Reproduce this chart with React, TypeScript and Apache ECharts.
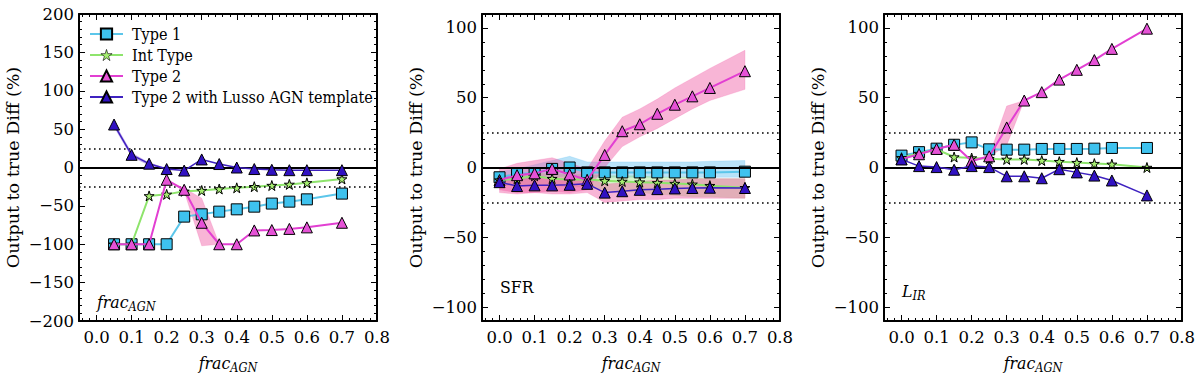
import React, { useEffect, useRef } from 'react';
import * as echarts from 'echarts';

// ---------- data ----------
const X_FRAC = [0.05, 0.1, 0.15, 0.2, 0.25, 0.3, 0.35, 0.4, 0.45, 0.5, 0.55, 0.6, 0.7];
const X_ALL = [0.0, 0.05, 0.1, 0.15, 0.2, 0.25, 0.3, 0.35, 0.4, 0.45, 0.5, 0.55, 0.6, 0.7];

const SERIES_NAMES = ['Type 1', 'Int Type', 'Type 2', 'Type 2 with Lusso AGN template'];

// Panel 1 : frac_AGN
const fracType1 = [-100, -100, -100, -100, -64, -61, -57.5, -54.5, -51, -47, -44.5, -41.5, -34];
const fracInt = [-100, -100, -37, -35, -31, -30, -28, -26.5, -25, -23.5, -22, -20, -15];
const fracType2 = [-100, -100, -100, -16, -29, -72, -100, -100, -82, -81.5, -80, -78, -72];
const fracLusso = [56, 16.5, 5, -2, -4, 10.5, 4.5, 0, -2, -3, -3.5, -3.5, -3.5];
const fracBandX = [0.2, 0.25, 0.3, 0.35];
const fracBandLo = [-16, -31, -102, -100];
const fracBandHi = [-16, -27, -40, -100];
const fracLussoBandX = [0.05, 0.1, 0.15, 0.2];
const fracLussoBandLo = [53, 14, 3, -3];
const fracLussoBandHi = [59, 19, 6, -1];

// Panel 2 : SFR
const sfrType1 = [-7, -4.7, -4, -1, 0, -3.5, -3.5, -3.5, -3.5, -3.5, -3.5, -3.5, -3.5, -3];
const sfrInt = [-9, -8, -6, -8, -8.6, -8.6, -9.5, -10, -10.5, -11, -11.5, -12, -13, -14.5];
const sfrType2 = [-9, -5.5, -4.2, -1, -5, -9, 9, 26, 31, 38.5, 45, 51, 57, 69];
const sfrLusso = [-10.5, -13.3, -12.8, -12.8, -12.4, -11.7, -18, -17, -16, -15.5, -15, -14.7, -14.5, -14.7];
const sfrType1Lo = [-10, -9, -8, -7, -6, -7, -7, -7, -7, -7, -7, -7, -7, -7];
const sfrType1Hi = [-3, -1, 2, 5, 8, 4, 4, 4, 4, 4, 4, 4, 4.5, 5];
const sfrIntLo = [-13, -13, -12, -13, -14, -14, -16, -17, -18, -19, -20, -21, -21, -22];
const sfrIntHi = [-6, -5, -4, -5, -5, -5, -6, -6, -6, -7, -7, -7, -8, -8];
const sfrType2Lo = [-18, -19, -18, -17, -18, -16, 0, 15, 22, 28, 35, 42, 48, 56];
const sfrType2Hi = [-1, 3, 5, 7, 3, -1, 19, 36, 42, 49, 57, 64, 71, 84];
const sfrLussoLo = [-16, -18, -18, -19, -19, -18, -25, -24, -23, -23, -22, -22, -22, -22];
const sfrLussoHi = [-6, -8, -8, -8, -8, -7, -12, -11, -10, -9, -9, -8, -8, -8];

// Panel 3 : L_IR
const lirType1 = [8.5, 11, 13.5, 16.3, 18, 13, 12.8, 12.8, 13.3, 13.3, 13.3, 13.5, 14, 14];
const lirInt = [7, 10, 13, 7.5, 6.8, 6.3, 5.8, 5.8, 5, 4.2, 3.5, 2.8, 2.3, 0];
const lirType2 = [6, 9.5, 13.3, 16.3, 4.7, 8, 28.7, 48, 54, 63, 70, 77, 85, 99.5];
const lirLusso = [5.8, 1, 0.3, -1.6, 1, 0.3, -6.3, -6.3, -7.7, -1.2, -3.5, -5.8, -9.3, -20];
const lirBandX = [0.2, 0.25, 0.3, 0.35];
const lirBandLo = [4.7, 7.5, 16, 48];
const lirBandHi = [4.7, 8.5, 44, 48];

const Y_TITLE = 'Output to true Diff (%)';

// ---------- styles ----------
const FONT = 'DejaVu Serif';
const FONT_H = '"DejaVu Serif Condensed", "DejaVu Serif"';
const STAR = 'path://M50 0 L61.23 34.55 L97.55 34.55 L68.16 55.9 L79.39 90.45 L50 69.1 L20.61 90.45 L31.84 55.9 L2.45 34.55 L38.77 34.55 Z';
const STYLES: Record<string, any> = {
  'Type 1': { line: '#5cc6ea', fill: '#3ec2ee', symbol: 'rect', size: 11, width: 2, z: 3 },
  'Int Type': { line: '#8ee46c', fill: '#a6ef70', symbol: STAR, size: 10, width: 2, z: 4 },
  'Type 2': { line: '#e23fd2', fill: '#e552d6', symbol: 'triangle', size: 11, width: 2, z: 5 },
  'Type 2 with Lusso AGN template': { line: '#3f22c0', fill: '#3112c2', symbol: 'triangle', size: 11, width: 1.5, z: 6 },
};
const PINK = 'rgba(240, 90, 165, 0.45)';
const CYAN = 'rgba(80, 185, 240, 0.40)';
const GREEN = 'rgba(140, 220, 100, 0.35)';
const PURPLE = 'rgba(130, 80, 215, 0.45)';

const GRID_LEFT = [79, 482, 884];
const GRID_W = 298;
const GRID_TOP = 14;
const GRID_H = 314;

function minus(v: number) {
  return v < 0 ? '\u2212' + Math.abs(v) : String(v);
}

function lineSeries(g: number, name: string, xs: number[], ys: number[], withRef: boolean) {
  const s = STYLES[name];
  const ser: any = {
    type: 'line',
    name,
    xAxisIndex: 2 * g,
    yAxisIndex: 2 * g,
    data: xs.map((x, i) => [x, ys[i]]),
    symbol: s.symbol,
    symbolSize: s.size,
    showSymbol: true,
    showAllSymbol: true,
    lineStyle: { color: s.line, width: s.width },
    itemStyle: { color: s.fill, borderColor: '#000', borderWidth: 1 },
    z: s.z,
    clip: true,
    silent: true,
  };
  if (withRef) {
    ser.markLine = {
      silent: true,
      symbol: ['none', 'none'],
      label: { show: false },
      animation: false,
      data: [
        { yAxis: 0, lineStyle: { color: '#000', width: 2, type: 'solid' } },
        { yAxis: 25, lineStyle: { color: '#000', width: 1.6, type: [1.6, 3.4] } },
        { yAxis: -25, lineStyle: { color: '#000', width: 1.6, type: [1.6, 3.4] } },
      ],
    };
  }
  return ser;
}

function bandSeries(g: number, xs: number[], lo: number[], hi: number[], color: string) {
  return {
    type: 'custom',
    xAxisIndex: 2 * g,
    yAxisIndex: 2 * g,
    silent: true,
    z: 1,
    clip: true,
    data: xs.map((x, i) => [x, lo[i], hi[i]]),
    encode: { x: 0, y: [1, 2] },
    renderItem: (params: any, api: any) => {
      if (params.dataIndex !== 0) return { type: 'group', children: [] };
      const pts: number[][] = [];
      xs.forEach((x, i) => pts.push(api.coord([x, hi[i]])));
      for (let i = xs.length - 1; i >= 0; i--) pts.push(api.coord([xs[i], lo[i]]));
      return { type: 'polygon', shape: { points: pts }, style: { fill: color, stroke: color, lineWidth: 0.5 } };
    },
  };
}

const tickCommon = {
  axisLine: { show: true, onZero: false, lineStyle: { color: '#000', width: 2 } },
  axisTick: { show: true, inside: true, length: 6, lineStyle: { color: '#000', width: 1 } },
  minorTick: { show: true, splitNumber: 5, length: 3, lineStyle: { color: '#000', width: 1 } },
  splitLine: { show: false },
  minorSplitLine: { show: false },
};

function buildAxes() {
  const xAxis: any[] = [];
  const yAxis: any[] = [];
  for (let g = 0; g < 3; g++) {
    const xBase = { type: 'value', gridIndex: g, min: -0.05, max: 0.8, splitNumber: 8, ...tickCommon };
    xAxis.push({
      ...xBase,
      position: 'bottom',
      axisLabel: {
        show: true,
        showMinLabel: false,
        margin: 8,
        fontFamily: FONT,
        fontSize: 16.5,
        color: '#000',
        formatter: (v: number) => v.toFixed(1),
      },
      name: '{a|frac}{b|AGN}',
      nameLocation: 'middle',
      nameGap: 31,
      nameTextStyle: {
        rich: {
          a: { fontFamily: FONT_H, fontStyle: 'italic', fontSize: 17.5, color: '#000' },
          b: { fontFamily: FONT_H, fontStyle: 'italic', fontSize: 12.5, color: '#000', padding: [9, 0, 0, 0] },
        },
      },
    });
    xAxis.push({ ...xBase, position: 'top', axisLabel: { show: false } });

    const yr = g === 0 ? { min: -200, max: 200, interval: 50 } : { min: -110, max: 110, splitNumber: 4 };
    const yBase = { type: 'value', gridIndex: g, ...yr, ...tickCommon };
    yAxis.push({
      ...yBase,
      position: 'left',
      axisLabel: {
        show: true,
        showMinLabel: g === 0,
        showMaxLabel: g === 0,
        margin: 5,
        fontFamily: FONT,
        fontSize: 16.5,
        color: '#000',
        formatter: (v: number) => minus(v),
      },
      name: Y_TITLE,
      nameLocation: 'middle',
      nameGap: 57,
      nameTextStyle: { fontFamily: FONT, fontSize: 17.5, color: '#000' },
    });
    yAxis.push({ ...yBase, position: 'right', axisLabel: { show: false } });
  }
  return { xAxis, yAxis };
}

export default function App() {
  const ref = useRef<HTMLDivElement>(null);
  useEffect(() => {
    if (!ref.current) return;
    const chart = echarts.init(ref.current, null, { renderer: 'svg' });
    const { xAxis, yAxis } = buildAxes();
    const panels = [
      { xs: X_FRAC, vals: [fracType1, fracInt, fracType2, fracLusso] },
      { xs: X_ALL, vals: [sfrType1, sfrInt, sfrType2, sfrLusso] },
      { xs: X_ALL, vals: [lirType1, lirInt, lirType2, lirLusso] },
    ];
    const series: any[] = [];
    // bands
    series.push(bandSeries(0, fracBandX, fracBandLo, fracBandHi, PINK));
    series.push(bandSeries(0, fracLussoBandX, fracLussoBandLo, fracLussoBandHi, PURPLE));
    series.push(bandSeries(1, X_ALL, sfrType1Lo, sfrType1Hi, CYAN));
    series.push(bandSeries(1, X_ALL, sfrIntLo, sfrIntHi, GREEN));
    series.push(bandSeries(1, X_ALL, sfrType2Lo, sfrType2Hi, PINK));
    series.push(bandSeries(1, X_ALL, sfrLussoLo, sfrLussoHi, PINK));
    series.push(bandSeries(2, lirBandX, lirBandLo, lirBandHi, PINK));
    panels.forEach((p, g) => {
      SERIES_NAMES.forEach((name, k) => {
        series.push(lineSeries(g, name, p.xs, p.vals[k], k === 0));
      });
    });

    const textRich = {
      i: { fontFamily: FONT_H, fontStyle: 'italic', fontSize: 17.5, fill: '#000' },
      s: { fontFamily: FONT_H, fontStyle: 'italic', fontSize: 12.5, fill: '#000', padding: [9, 0, 0, 0] },
      r: { fontFamily: FONT_H, fontSize: 17.5, fill: '#000' },
    };

    const legendData = SERIES_NAMES.map((n) =>
      n === 'Int Type' ? { name: n, itemStyle: { borderWidth: 0.6, color: STYLES[n].fill, borderColor: '#000' } } : { name: n }
    );

    chart.setOption({
      animation: false,
      textStyle: { fontFamily: FONT },
      grid: GRID_LEFT.map((l) => ({ left: l, top: GRID_TOP, width: GRID_W, height: GRID_H, containLabel: false })),
      xAxis,
      yAxis,
      legend: {
        data: legendData,
        orient: 'vertical',
        left: 84,
        top: 21,
        itemWidth: 33,
        itemHeight: 14,
        itemGap: 5,
        selectedMode: false,
        textStyle: { fontFamily: FONT_H, fontSize: 16, color: '#000', padding: [0, 0, 0, 4] },
      },
      graphic: [
        { type: 'text', left: 97, top: 293, style: { text: '{i|frac}{s|AGN}', rich: textRich } },
        { type: 'text', left: 500, top: 278, style: { text: '{r|SFR}', rich: textRich } },
        { type: 'text', left: 902, top: 282, style: { text: '{i|L}{s|IR}', rich: textRich } },
      ],
      series,
    });
    return () => chart.dispose();
  }, []);
  return <div ref={ref} style={{ position: 'absolute', left: 0, top: 0, width: 1200, height: 379, background: '#fff' }} />;
}
